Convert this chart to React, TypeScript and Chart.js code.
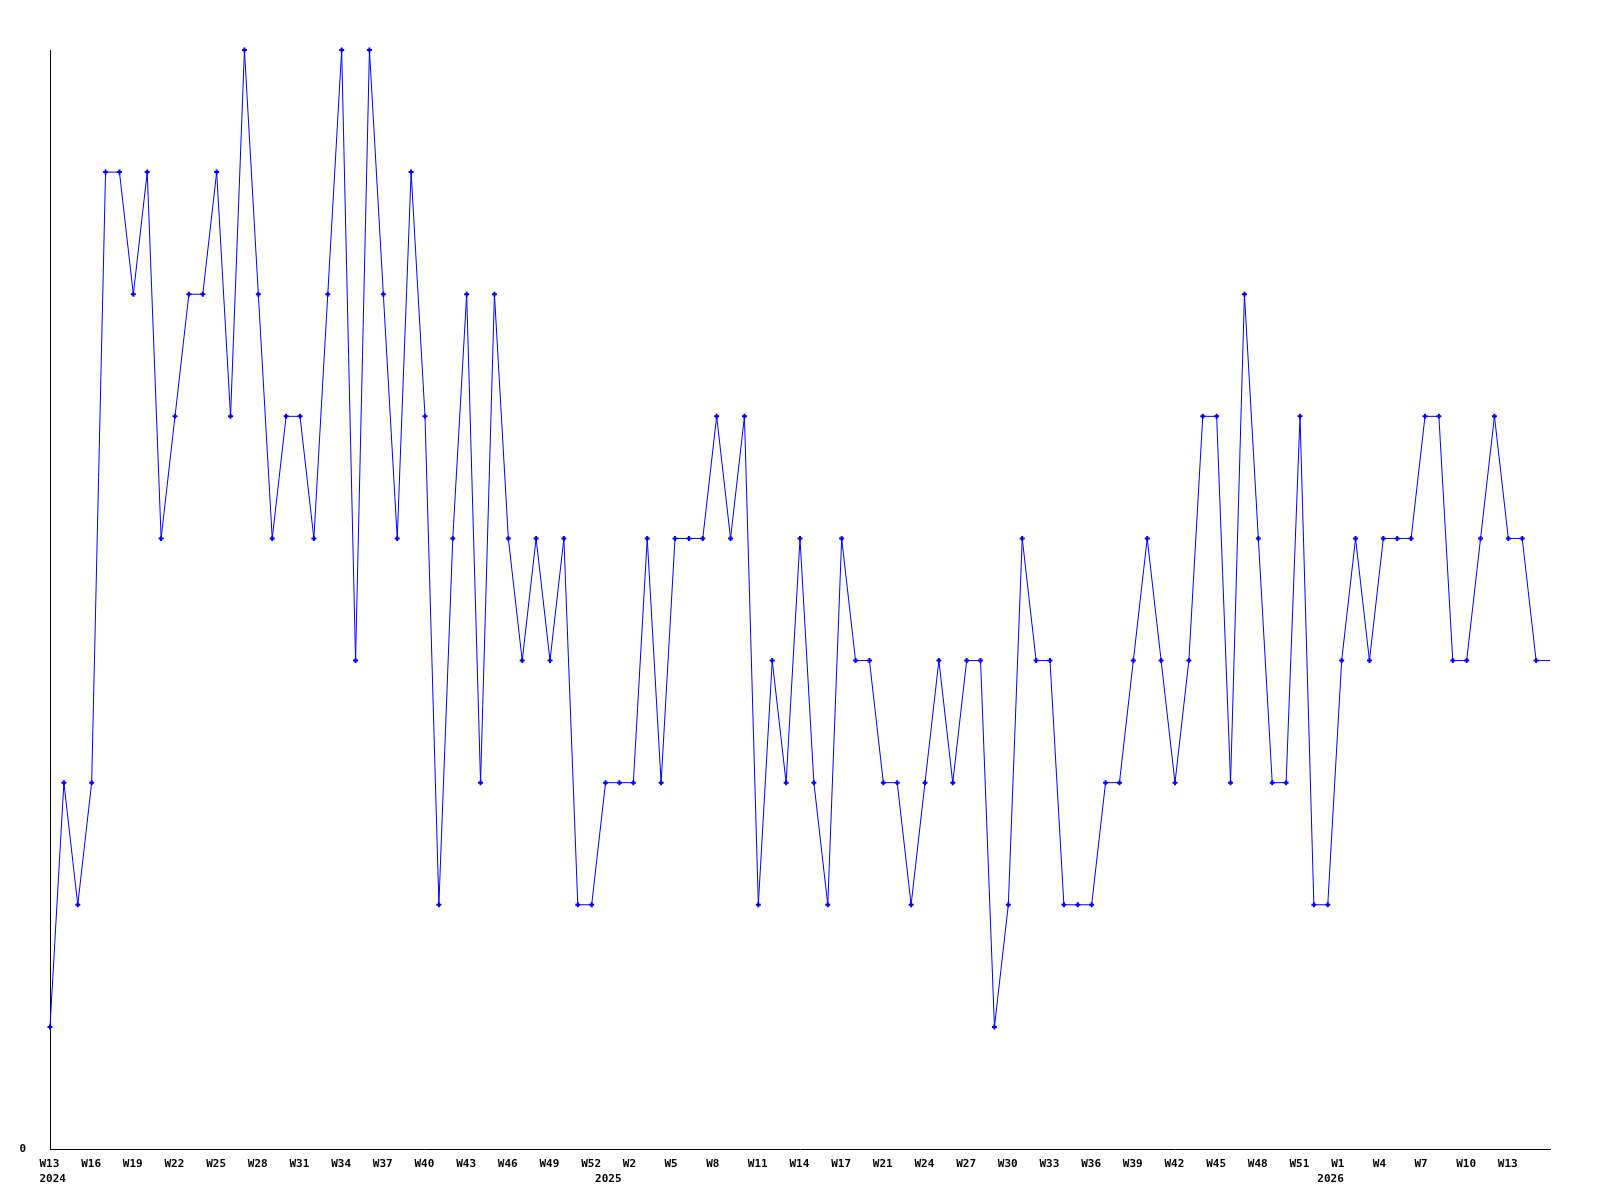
import React, { useEffect, useRef } from "react";
import { Chart, registerables } from "chart.js";

Chart.register(...registerables);

// Weekly categories, "YEAR-WEEK"
const categories: string[] = [
  "2024-W13", "2024-W14", "2024-W15", "2024-W16", "2024-W17", "2024-W18", "2024-W19", "2024-W20",
  "2024-W21", "2024-W22", "2024-W23", "2024-W24", "2024-W25", "2024-W26", "2024-W27", "2024-W28",
  "2024-W29", "2024-W30", "2024-W31", "2024-W32", "2024-W33", "2024-W34", "2024-W35", "2024-W36",
  "2024-W37", "2024-W38", "2024-W39", "2024-W40", "2024-W41", "2024-W42", "2024-W43", "2024-W44",
  "2024-W45", "2024-W46", "2024-W47", "2024-W48", "2024-W49", "2024-W50", "2024-W51", "2024-W52",
  "2025-W0", "2025-W1", "2025-W2", "2025-W3", "2025-W4", "2025-W5", "2025-W6", "2025-W7",
  "2025-W8", "2025-W9", "2025-W10", "2025-W11", "2025-W12", "2025-W13", "2025-W14", "2025-W15",
  "2025-W16", "2025-W17", "2025-W18", "2025-W20", "2025-W21", "2025-W22", "2025-W23", "2025-W24",
  "2025-W25", "2025-W26", "2025-W27", "2025-W28", "2025-W29", "2025-W30", "2025-W31", "2025-W32",
  "2025-W33", "2025-W34", "2025-W35", "2025-W36", "2025-W37", "2025-W38", "2025-W39", "2025-W40",
  "2025-W41", "2025-W42", "2025-W43", "2025-W44", "2025-W45", "2025-W46", "2025-W47", "2025-W48",
  "2025-W49", "2025-W50", "2025-W51", "2025-W52",
  "2026-W0", "2026-W1", "2026-W2", "2026-W3", "2026-W4", "2026-W5", "2026-W6", "2026-W7",
  "2026-W8", "2026-W9", "2026-W10", "2026-W11", "2026-W12", "2026-W13", "2026-W14", "2026-W15",
  "2026-W16",
];

// Series values, one per week
const values: number[] = [
  1, 3, 2, 3, 8, 8, 7, 8, 5, 6,
  7, 7, 8, 6, 9, 7, 5, 6, 6, 5,
  7, 9, 4, 9, 7, 5, 8, 6, 2, 5,
  7, 3, 7, 5, 4, 5, 4, 5, 2, 2,
  3, 3, 3, 5, 3, 5, 5, 5, 6, 5,
  6, 2, 4, 3, 5, 3, 2, 5, 4, 4,
  3, 3, 2, 3, 4, 3, 4, 4, 1, 2,
  5, 4, 4, 2, 2, 2, 3, 3, 4, 5,
  4, 3, 4, 6, 6, 3, 7, 5, 3, 3,
  6, 2, 2, 4, 5, 4, 5, 5, 5, 6,
  6, 4, 4, 5, 6, 5, 5, 4, 4,
];

const yTickValues: number[] = [0];
const yMin = 0;
const yMax = 9;
const labelEvery = 3;

const FONT_FAMILY = '"DejaVu Sans Mono", "Liberation Mono", monospace';

const weekYearLabels = {
  id: "weekYearLabels",
  afterDraw(chart: any) {
    const xs = chart.scales.x;
    const ctx = chart.ctx;
    ctx.save();
    ctx.font = `bold 11px ${FONT_FAMILY}`;
    ctx.fillStyle = "#000000";
    ctx.textAlign = "left";
    ctx.textBaseline = "alphabetic";
    categories.forEach((c, i) => {
      const [yr, wk] = c.split("-");
      const x = xs.getPixelForValue(i) - 10.5;
      if (i % labelEvery === 0) {
        const w = ctx.measureText(wk).width;
        if (x + w <= chart.chartArea.right) {
          ctx.fillText(wk, x, xs.top + 17.7);
        }
      }
      if (i === 0 || categories[i - 1].split("-")[0] !== yr) {
        ctx.fillText(yr, x, xs.top + 32.5);
      }
    });
    ctx.restore();
  },
};

export default function App() {
  const canvasRef = useRef<HTMLCanvasElement | null>(null);

  useEffect(() => {
    if (!canvasRef.current) return;
    const chart = new Chart(canvasRef.current, {
      type: "line",
      data: {
        labels: categories,
        datasets: [
          {
            data: values,
            borderColor: "#0000ff",
            backgroundColor: "#0000ff",
            borderWidth: 1,
            tension: 0,
            fill: false,
            clip: false as any,
            pointStyle: "cross",
            pointRadius: (ctx: any) => (ctx.dataIndex === values.length - 1 ? 0 : 2.5),
            pointBorderWidth: 2,
            pointBorderColor: "#0000ff",
            pointBackgroundColor: "#0000ff",
          },
        ],
      },
      options: {
        responsive: false,
        animation: false,
        devicePixelRatio: 1,
        layout: { padding: { top: 50, right: 50, left: 0, bottom: 0 } },
        plugins: {
          legend: { display: false },
          tooltip: { enabled: false },
          title: { display: false },
        },
        scales: {
          x: {
            type: "category",
            offset: false,
            grid: { display: false, drawTicks: false },
            border: { display: true, color: "#000000", width: 1 },
            ticks: { display: false },
            afterFit: (s: any) => {
              s.height = 51;
            },
          },
          y: {
            min: yMin,
            max: yMax,
            grid: { display: false, drawTicks: false },
            border: { display: true, color: "#000000", width: 1 },
            afterBuildTicks: (s: any) => {
              s.ticks = yTickValues.map((v) => ({ value: v }));
            },
            ticks: {
              padding: 24,
              color: "#000000",
              font: { family: FONT_FAMILY, size: 11, weight: "bold" },
              callback: (v: any) => String(v),
            },
            afterFit: (s: any) => {
              s.width = 50;
            },
          },
        },
      },
      plugins: [weekYearLabels],
    });
    return () => chart.destroy();
  }, []);

  return (
    <div style={{ position: "absolute", left: 0, top: 0, width: 1600, height: 1200, background: "#ffffff" }}>
      <canvas ref={canvasRef} width={1600} height={1200} style={{ display: "block" }} />
    </div>
  );
}
